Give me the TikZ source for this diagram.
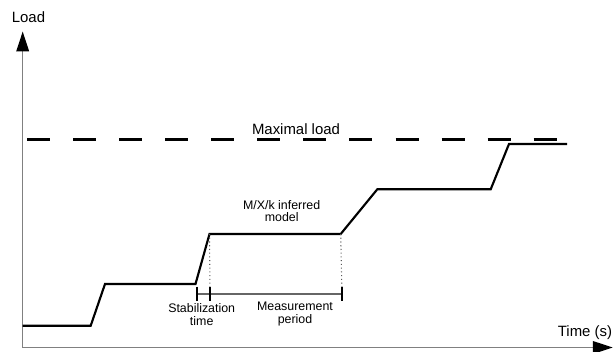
\documentclass[tikz,border=0pt]{standalone}
\usepackage{fontspec}
\setmainfont{Liberation Sans}
\usetikzlibrary{arrows.meta}
\begin{document}
\begin{tikzpicture}[x=0.75pt,y=-0.75pt,
  axisline/.style={draw=gray, line width=1.1pt, -{Triangle[length=15pt,width=9.5pt,color=black]}},
  loadline/.style={draw=black, line width=1.6pt, line join=miter},
  maxline/.style={draw=black, line width=2.2pt, dash pattern=on 17.25pt off 17.3pt},
  guideline/.style={draw=gray!70!black, line width=0.8pt, dotted},
  spanline/.style={draw=gray!80!black, line width=0.8pt},
  tickline/.style={draw=black, line width=1.5pt},
  biglabel/.style={inner sep=0pt, font=\fontsize{11.2pt}{13pt}\selectfont},
  smalllabel/.style={inner sep=0pt, align=center, font=\fontsize{9.3pt}{9.5pt}\selectfont}]
\useasboundingbox (0,0) rectangle (613,352);

% axes
\coordinate (origin) at (22.7,347.5);
\coordinate (ytop) at (22.7,31.5);
\coordinate (xend) at (612.8,347.5);
\draw[axisline] (origin) -- (ytop);
\draw[axisline] (origin) -- (xend);
\node[biglabel] (loadlbl) at (28.5,17) {Load};
\node[biglabel] (timelbl) at (585,333) {Time (s)};

% maximal load
\coordinate (maxa) at (27,139.3);
\coordinate (maxb) at (557.5,139.3);
\draw[maxline] (maxa) -- (maxb);
\node[biglabel] (maxlbl) at (296,129) {Maximal load};

% load steps
\coordinate (p0) at (22.7,325.7);
\coordinate (p1) at (90.7,325.7);
\coordinate (p2) at (105,284);
\coordinate (p3) at (195.5,284);
\coordinate (p4) at (209.5,234);
\coordinate (p5) at (340.7,234);
\coordinate (p6) at (377.3,189.3);
\coordinate (p7) at (490.7,189.3);
\coordinate (p8) at (509,144);
\coordinate (p9) at (567,144);
\draw[loadline] (p0) -- (p1) -- (p2) -- (p3) -- (p4) -- (p5) -- (p6) -- (p7) -- (p8) -- (p9);

% measurement markers
\coordinate (ta) at (197.3,294);
\coordinate (tb) at (210,294);
\coordinate (tc) at (342,294);
\draw[guideline] (p4) -- (tb);
\draw[guideline] (p5) -- (tc);
\draw[spanline] (ta) -- (tc);
\foreach \t in {ta,tb,tc}
  \draw[tickline] ([yshift=5.6pt]\t) -- ([yshift=-5.6pt]\t);

\node[smalllabel] (stablbl) at (201.7,314.5) {Stabilization\\time};
\node[smalllabel] (measlbl) at (295,314) {Measurement\\period};
\node[smalllabel] (modellbl) at (281.7,211) {M/X/k inferred\\model};
\end{tikzpicture}
\end{document}
